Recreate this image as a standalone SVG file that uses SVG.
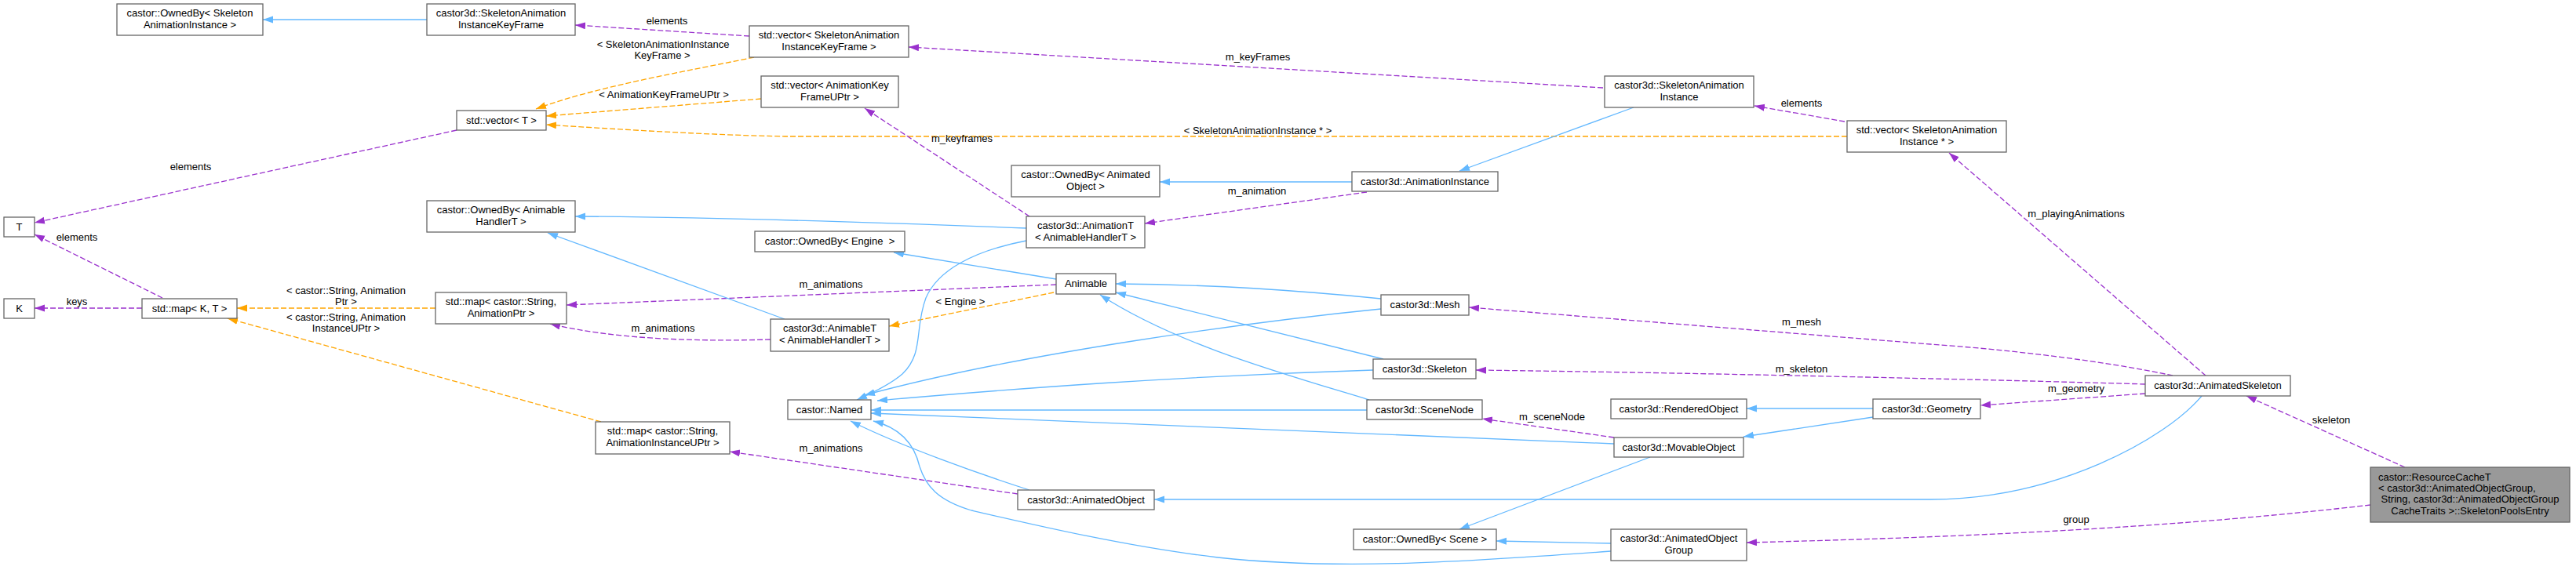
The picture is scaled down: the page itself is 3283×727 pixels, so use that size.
<svg xmlns="http://www.w3.org/2000/svg" width="3283" height="727" viewBox="0 0 3283 727">
<style>
.node rect{fill:#ffffff;stroke:#666666;stroke-width:1.3}
.node.main rect{fill:#999999}
text{font-family:"Liberation Sans",Arial,sans-serif;font-size:13px;fill:#000000;text-anchor:middle}
.e path{fill:none;stroke-width:1.3}
.inh{stroke:#63b8ff;marker-end:url(#ab)}
.use{stroke:#9a32cd;stroke-dasharray:7,3;marker-end:url(#ap)}
.tpl{stroke:#ffa500;stroke-dasharray:7,3;marker-end:url(#ao)}
</style>
<defs>
<marker id="ab" markerUnits="userSpaceOnUse" markerWidth="14" markerHeight="10" refX="13" refY="4.5" orient="auto"><path d="M0,0 L13,4.5 L0,9 z" fill="#63b8ff"/></marker>
<marker id="ap" markerUnits="userSpaceOnUse" markerWidth="14" markerHeight="10" refX="13" refY="4.5" orient="auto"><path d="M0,0 L13,4.5 L0,9 z" fill="#9a32cd"/></marker>
<marker id="ao" markerUnits="userSpaceOnUse" markerWidth="14" markerHeight="10" refX="13" refY="4.5" orient="auto"><path d="M0,0 L13,4.5 L0,9 z" fill="#ffa500"/></marker>
</defs>
<rect x="0" y="0" width="3283" height="727" fill="#ffffff"/>
<g id="connectors" class="e">
<path class="inh" d="M544,25 L335,25"/>
<path class="use" d="M955,46 L733,32"/>
<path class="tpl" d="M961,73 C880,90 760,110 683,139"/>
<path class="tpl" d="M970,126 L696,148"/>
<path class="tpl" d="M2354,174 L1000,174 C900,172 790,165 696,159"/>
<path class="use" d="M582,166 L44,284"/>
<path class="use" d="M207,380 L44,299"/>
<path class="use" d="M181,393 L44,393"/>
<path class="tpl" d="M555,393 L302,393"/>
<path class="tpl" d="M766,538 L290,406"/>
<path class="use" d="M1346,363 L722,389"/>
<path class="use" d="M982,433 C880,436 780,432 701,413"/>
<path class="inh" d="M1000,407 L698,297"/>
<path class="tpl" d="M1343,373 L1133,416"/>
<path class="inh" d="M1308,291 C1100,283 900,277 733,276"/>
<path class="use" d="M1312,276 L1102,138"/>
<path class="use" d="M1742,245 L1459,285"/>
<path class="inh" d="M1723,232 L1478,232"/>
<path class="inh" d="M2082,137 L1860,218"/>
<path class="use" d="M2043,112 L1158,60"/>
<path class="use" d="M2351,155 L2236,135"/>
<path class="use" d="M2811,479 L2484,195"/>
<path class="use" d="M2769,479 C2680,460 2560,446 2460,439 L1872,392"/>
<path class="use" d="M2734,490 C2600,486 2200,476 1881,472"/>
<path class="use" d="M2734,502 L2524,517"/>
<path class="inh" d="M2806,505 C2760,560 2620,637 2460,637 L1471,637"/>
<path class="use" d="M3065,596 L2863,505"/>
<path class="use" d="M3021,644 C2800,670 2550,684 2226,692"/>
<path class="inh" d="M2387,521 L2226,521"/>
<path class="inh" d="M2387,532 L2222,557"/>
<path class="use" d="M2057,558 L1889,534"/>
<path class="inh" d="M2103,583 L1860,675"/>
<path class="inh" d="M2053,693 L1907,690"/>
<path class="inh" d="M2053,703 C1850,718 1700,727 1552,711 C1440,698 1320,670 1238,651 C1195,638 1180,620 1172,595 C1165,565 1145,545 1113,537"/>
<path class="inh" d="M1312,625 C1250,605 1150,570 1084,537"/>
<path class="use" d="M1297,630 L930,576"/>
<path class="inh" d="M1308,307 C1240,320 1195,345 1180,380 C1165,420 1178,450 1150,477 C1135,490 1110,502 1092,510"/>
<path class="inh" d="M1760,394 C1600,410 1300,450 1102,504"/>
<path class="inh" d="M1750,472 C1500,480 1300,495 1118,511"/>
<path class="inh" d="M1742,523 L1110,523"/>
<path class="inh" d="M2057,566 C1700,552 1400,538 1110,527"/>
<path class="inh" d="M1760,381 C1650,370 1550,363 1422,362"/>
<path class="inh" d="M1763,458 L1422,373"/>
<path class="inh" d="M1745,510 C1640,478 1500,440 1402,376"/>
<path class="inh" d="M1346,356 L1139,322"/>
</g>
<g id="edge-labels">
<text x="850" y="31">elements</text>
<text x="845" y="61">&lt; SkeletonAnimationInstance</text>
<text x="844" y="75">KeyFrame &gt;</text>
<text x="846" y="125">&lt; AnimationKeyFrameUPtr &gt;</text>
<text x="1603" y="77">m_keyFrames</text>
<text x="1226" y="181">m_keyframes</text>
<text x="1603" y="171">&lt; SkeletonAnimationInstance * &gt;</text>
<text x="2296" y="136">elements</text>
<text x="243" y="217">elements</text>
<text x="1602" y="248">m_animation</text>
<text x="2646" y="277">m_playingAnimations</text>
<text x="98" y="307">elements</text>
<text x="1059" y="367">m_animations</text>
<text x="441" y="375">&lt; castor::String, Animation</text>
<text x="441" y="389">Ptr &gt;</text>
<text x="98" y="389">keys</text>
<text x="1224" y="389">&lt; Engine &gt;</text>
<text x="441" y="409">&lt; castor::String, Animation</text>
<text x="441" y="423">InstanceUPtr &gt;</text>
<text x="2296" y="415">m_mesh</text>
<text x="845" y="423">m_animations</text>
<text x="2296" y="475">m_skeleton</text>
<text x="2646" y="500">m_geometry</text>
<text x="1978" y="536">m_sceneNode</text>
<text x="2971" y="540">skeleton</text>
<text x="1059" y="576">m_animations</text>
<text x="2646" y="667">group</text>
</g>
<g id="n1" class="node"><rect x="149" y="5" width="186" height="40"/><text x="242" y="21">castor::OwnedBy&lt; Skeleton</text><text x="242" y="36">AnimationInstance &gt;</text></g>
<g id="n2" class="node"><rect x="544" y="5" width="189" height="40"/><text x="638.5" y="21">castor3d::SkeletonAnimation</text><text x="638.5" y="36">InstanceKeyFrame</text></g>
<g id="n3" class="node"><rect x="955" y="33" width="203" height="40"/><text x="1056.5" y="49">std::vector&lt; SkeletonAnimation</text><text x="1056.5" y="64">InstanceKeyFrame &gt;</text></g>
<g id="n4" class="node"><rect x="582" y="141" width="114" height="25"/><text x="639" y="158">std::vector&lt; T &gt;</text></g>
<g id="n5" class="node"><rect x="970" y="97" width="175" height="40"/><text x="1057.5" y="113">std::vector&lt; AnimationKey</text><text x="1057.5" y="128">FrameUPtr &gt;</text></g>
<g id="n6" class="node"><rect x="2045" y="97" width="190" height="40"/><text x="2140" y="113">castor3d::SkeletonAnimation</text><text x="2140" y="128">Instance</text></g>
<g id="n7" class="node"><rect x="2354" y="154" width="203" height="40"/><text x="2455.5" y="170">std::vector&lt; SkeletonAnimation</text><text x="2455.5" y="185">Instance * &gt;</text></g>
<g id="n8" class="node"><rect x="1289" y="211" width="189" height="40"/><text x="1383.5" y="227">castor::OwnedBy&lt; Animated</text><text x="1383.5" y="242">Object &gt;</text></g>
<g id="n9" class="node"><rect x="1723" y="219" width="186" height="25"/><text x="1816" y="236">castor3d::AnimationInstance</text></g>
<g id="n10" class="node"><rect x="544" y="256" width="189" height="40"/><text x="638.5" y="272">castor::OwnedBy&lt; Animable</text><text x="638.5" y="287">HandlerT &gt;</text></g>
<g id="n11" class="node"><rect x="5" y="277" width="39" height="25"/><text x="24.5" y="294">T</text></g>
<g id="n12" class="node"><rect x="1308" y="276" width="151" height="40"/><text x="1383.5" y="292">castor3d::AnimationT</text><text x="1383.5" y="307">&lt; AnimableHandlerT &gt;</text></g>
<g id="n13" class="node"><rect x="962" y="295" width="191" height="26"/><text x="1057.5" y="312" xml:space="preserve">castor::OwnedBy&lt; Engine  &gt;</text></g>
<g id="n14" class="node"><rect x="1346" y="349" width="76" height="26"/><text x="1384" y="366">Animable</text></g>
<g id="n15" class="node"><rect x="1760" y="376" width="112" height="26"/><text x="1816" y="393">castor3d::Mesh</text></g>
<g id="n16" class="node"><rect x="5" y="381" width="39" height="25"/><text x="24.5" y="398">K</text></g>
<g id="n17" class="node"><rect x="181" y="381" width="121" height="25"/><text x="241.5" y="398">std::map&lt; K, T &gt;</text></g>
<g id="n18" class="node"><rect x="555" y="373" width="167" height="40"/><text x="638.5" y="389">std::map&lt; castor::String,</text><text x="638.5" y="404">AnimationPtr &gt;</text></g>
<g id="n19" class="node"><rect x="982" y="407" width="151" height="41"/><text x="1057.5" y="423">castor3d::AnimableT</text><text x="1057.5" y="438">&lt; AnimableHandlerT &gt;</text></g>
<g id="n20" class="node"><rect x="1750" y="458" width="131" height="25"/><text x="1815.5" y="475">castor3d::Skeleton</text></g>
<g id="n21" class="node"><rect x="2734" y="479" width="185" height="26"/><text x="2826.5" y="496">castor3d::AnimatedSkeleton</text></g>
<g id="n22" class="node"><rect x="1004" y="510" width="106" height="25"/><text x="1057" y="527">castor::Named</text></g>
<g id="n23" class="node"><rect x="1742" y="510" width="147" height="25"/><text x="1815.5" y="527">castor3d::SceneNode</text></g>
<g id="n24" class="node"><rect x="2053" y="509" width="173" height="25"/><text x="2139.5" y="526">castor3d::RenderedObject</text></g>
<g id="n25" class="node"><rect x="2387" y="509" width="137" height="25"/><text x="2455.5" y="526">castor3d::Geometry</text></g>
<g id="n26" class="node"><rect x="759" y="538" width="171" height="41"/><text x="844.5" y="554">std::map&lt; castor::String,</text><text x="844.5" y="569">AnimationInstanceUPtr &gt;</text></g>
<g id="n27" class="node"><rect x="2057" y="558" width="165" height="25"/><text x="2139.5" y="575">castor3d::MovableObject</text></g>
<g id="n28" class="node main"><rect x="3021" y="596" width="254" height="70"/><text x="3031" y="612.5" style="text-anchor:start">castor::ResourceCacheT</text><text x="3031" y="627" style="text-anchor:start">&lt; castor3d::AnimatedObjectGroup,</text><text x="3148" y="641">String, castor3d::AnimatedObjectGroup</text><text x="3148" y="655.5">CacheTraits &gt;::SkeletonPoolsEntry</text></g>
<g id="n29" class="node"><rect x="1297" y="625" width="174" height="25"/><text x="1384" y="642">castor3d::AnimatedObject</text></g>
<g id="n30" class="node"><rect x="1725" y="675" width="182" height="26"/><text x="1816" y="692">castor::OwnedBy&lt; Scene &gt;</text></g>
<g id="n31" class="node"><rect x="2053" y="675" width="173" height="40"/><text x="2139.5" y="691">castor3d::AnimatedObject</text><text x="2139.5" y="706">Group</text></g>
</svg>
